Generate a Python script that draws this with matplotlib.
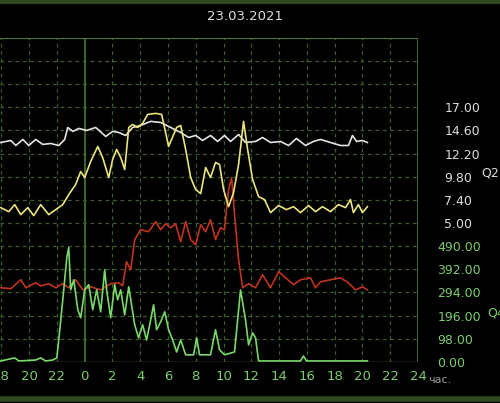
import matplotlib
matplotlib.use("Agg")
import matplotlib.pyplot as plt
import numpy as np

title = "23.03.2021"
xticks = list(range(-6, 25, 2))
xticklabels = [str(h % 24) if h != 24 else "24" for h in xticks]
q2_ticks = [5.00, 7.40, 9.80, 12.20, 14.60, 17.00]
q4_ticks = [0.00, 98.00, 196.00, 294.00, 392.00, 490.00]

white_t = [-6.04,-5.32,-4.96,-4.46,-4.03,-3.53,-3.02,-2.45,-1.87,-1.44,-1.22,-0.86,-0.43,0.14,0.79,1.51,2.01,2.45,2.95,3.45,4.03,4.75,5.47,6.19,6.91,7.48,7.99,8.49,9.06,9.57,10.07,10.5,11.08,11.58,12.3,12.81,13.38,14.1,14.68,15.25,15.9,16.47,16.98,17.7,18.42,18.99,19.28,19.57,20.0,20.36]
white_v = [13.35,13.56,13.04,13.67,13.04,13.67,13.15,13.25,13.04,13.67,14.91,14.5,14.81,14.6,14.91,13.98,14.5,14.39,14.08,14.91,15.12,15.54,15.43,14.91,14.39,13.87,14.08,13.56,14.08,13.46,14.08,13.46,14.18,13.35,13.46,13.87,13.35,13.46,13.04,13.77,13.04,13.46,13.67,13.35,13.04,13.04,14.08,13.46,13.56,13.35]

yellow_t = [-6.04,-5.47,-5.04,-4.6,-4.1,-3.67,-3.17,-2.59,-2.09,-1.58,-1.15,-0.65,-0.29,0,0.43,0.94,1.29,1.73,2.01,2.3,2.59,2.88,3.17,3.45,3.81,4.17,4.53,5.11,5.54,6.04,6.62,6.91,7.27,7.63,7.99,8.35,8.71,9.06,9.42,9.71,10.0,10.36,10.72,11.08,11.44,11.73,12.09,12.52,12.95,13.38,13.96,14.53,15.04,15.54,16.12,16.62,17.12,17.7,18.27,18.78,19.14,19.35,19.71,20.0,20.36]
yellow_v = [6.6,6.18,6.91,5.87,6.6,5.77,6.91,5.87,6.39,6.91,7.95,9.0,10.34,9.72,11.38,12.94,11.8,9.72,11.59,12.63,11.8,10.55,14.91,15.22,14.91,15.33,16.26,16.37,16.26,12.94,14.91,15.12,12.63,9.72,8.47,8.05,10.76,9.72,11.28,11.07,8.47,6.7,8.16,11.07,15.54,12.63,9.51,7.74,7.43,6.08,6.81,6.39,6.7,6.08,6.81,6.18,6.7,6.18,6.91,6.6,7.43,6.08,6.91,6.08,6.7]

red_t = [-6.04,-5.32,-4.6,-4.24,-3.53,-3.17,-2.59,-2.09,-1.58,-1.15,-0.65,-0.14,0.43,1.15,1.87,2.45,2.73,3.02,3.31,3.6,4.03,4.6,5.11,5.47,5.83,6.19,6.55,6.91,7.27,7.63,7.99,8.35,8.71,9.06,9.42,9.78,10.07,10.36,10.58,10.79,11.08,11.37,11.8,12.3,12.81,13.38,13.96,14.46,15.04,15.54,16.26,16.62,16.98,17.7,18.42,18.99,19.5,20.0,20.36]
red_v = [314,310,348,314,335,322,331,314,331,314,348,305,318,305,331,335,322,424,390,518,560,551,594,560,585,568,585,509,594,518,496,581,551,602,518,568,560,730,780,624,433,314,331,314,369,314,382,356,327,348,356,314,339,348,356,335,305,318,305]

green_t = [-6.04,-5.04,-4.75,-3.53,-3.17,-2.81,-2.3,-2.01,-1.87,-1.58,-1.29,-1.15,-1.01,-0.79,-0.5,-0.29,0,0.29,0.58,0.86,1.15,1.44,1.58,1.87,2.16,2.37,2.59,2.88,3.17,3.6,3.88,4.17,4.46,4.75,4.96,5.18,5.47,5.76,6.04,6.33,6.62,6.91,7.27,7.84,8.06,8.27,9.06,9.42,9.71,10.07,10.79,11.22,11.58,11.8,12.09,12.3,12.52,15.54,15.75,15.97,20.36]
green_v = [4,17,4,8,17,4,8,17,93,263,441,484,305,348,221,187,305,327,221,305,212,390,305,187,327,263,305,199,318,157,102,157,93,178,242,136,170,212,136,93,42,93,30,30,102,30,30,136,51,30,42,305,178,72,123,102,4,4,25,4,4]

fig = plt.figure(figsize=(5.0, 4.03), dpi=100, facecolor="black")
ax = fig.add_axes([0.0, 0.102, 0.836, 0.804], facecolor="black")
ax.set_xlim(-6.1, 24)
ax.set_ylim(0, 14 * 98)
ax2 = ax.twinx()
ax2.set_ylim(5 - 6 * 2.4, 5 + 8 * 2.4)

gc = "#3c5e2c"
for x in xticks:
    if x in (0, 24):
        ax.axvline(x, color="#4a7a34", lw=1.2, zorder=1)
    else:
        ax.axvline(x, color=gc, lw=0.9, ls=(0, (3, 3)), zorder=1)
for k in range(1, 14):
    ax.axhline(k * 98, color=gc, lw=0.9, ls=(0, (3, 3)), zorder=1)
ax.axhline(14 * 98, color="#4a7a34", lw=1.5, zorder=1)
ax.axhline(0, color="#4a7a34", lw=1.0, zorder=1)

ax.plot(red_t, red_v, color="#c0341f", lw=1.2, zorder=3)
ax.plot(green_t, green_v, color="#7ad86a", lw=1.2, zorder=4)
ax2.plot(white_t, white_v, color="#e4e4e4", lw=1.2, zorder=3)
ax2.plot(yellow_t, yellow_v, color="#ece47a", lw=1.2, zorder=4)

for a in (ax, ax2):
    for s in a.spines.values():
        s.set_visible(False)

ax.set_xticks(xticks)
ax.set_xticklabels(xticklabels)
ax.tick_params(axis="x", colors="#7ccc6c", length=0, labelsize=9.5, pad=6)
ax.yaxis.tick_right()
ax.set_yticks(q4_ticks)
ax.set_yticklabels([f"{v:.2f}" for v in q4_ticks])
ax.tick_params(axis="y", colors="#7ccc6c", length=0, labelsize=9, pad=14)
ax2.set_yticks(q2_ticks)
ax2.set_yticklabels([f"{v:.2f}" for v in q2_ticks])
ax2.tick_params(axis="y", colors="#dddddd", length=0, labelsize=9, pad=19)

fig.text(0.49, 0.96, title, color="#dddddd", fontsize=9.5, ha="center", va="center")
fig.text(0.88, 0.057, "час.", color="#999999", fontsize=8, ha="center", va="center")
fig.text(0.962, 0.57, "Q2", color="#dddddd", fontsize=9, ha="left", va="center")
fig.text(0.975, 0.223, "Q4", color="#7ccc6c", fontsize=9, ha="left", va="center")
fig.add_artist(plt.Line2D([0, 1], [0.995, 0.995], color="#2e4a1e", lw=3, transform=fig.transFigure))
fig.add_artist(plt.Line2D([0, 1], [0.01, 0.01], color="#2e4a1e", lw=4, transform=fig.transFigure))

fig.savefig("out.png", dpi=100, facecolor="black")
